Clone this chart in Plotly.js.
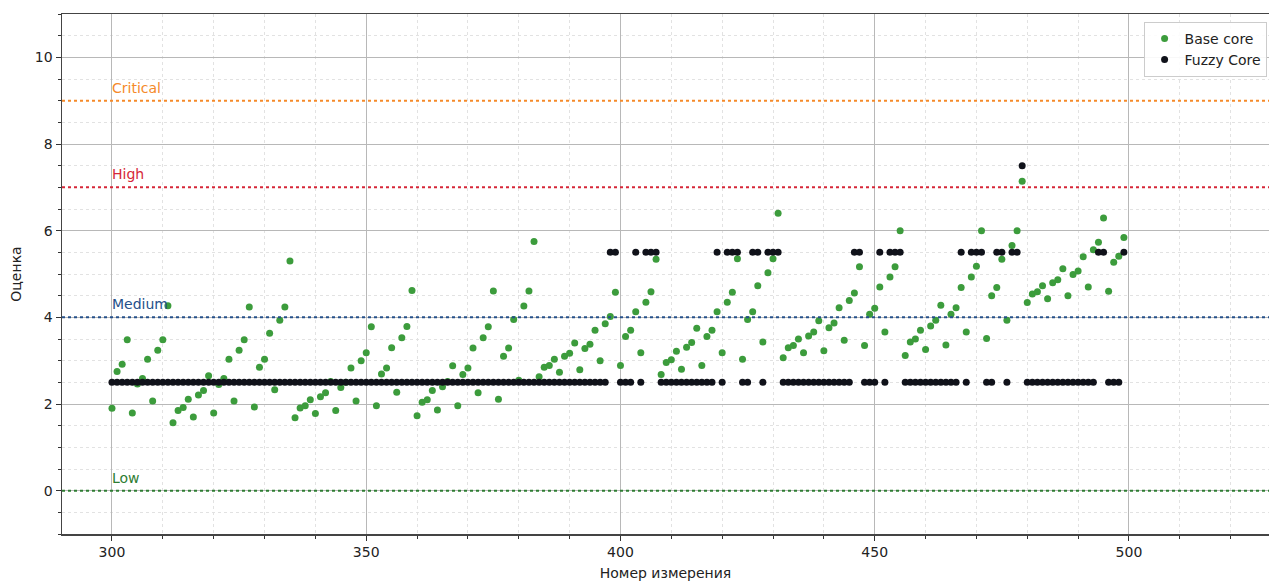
<!DOCTYPE html>
<html>
<head>
<meta charset="utf-8">
<script src="https://cdn.plot.ly/plotly-3.0.1.min.js"></script>
<style>html,body{margin:0;padding:0;background:#fff;}#chart{width:1269px;height:581px;}</style>
</head>
<body>
<div id="chart"></div>
<script>
// Measurement numbers
const xStart = 300;
const measurementCount = 200;

// Base core scores (x = 300..499)
const baseCore = [
  1.90, 2.75, 2.92, 3.48, 1.79, 2.46, 2.59, 3.03, 2.07, 3.24,
  3.48, 4.27, 1.57, 1.85, 1.92, 2.11, 1.70, 2.21, 2.31, 2.65,
  1.79, 2.45, 2.59, 3.03, 2.07, 3.24, 3.48, 4.24, 1.93, 2.85,
  3.03, 3.63, 2.33, 3.93, 4.24, 5.30, 1.68, 1.91, 1.96, 2.10,
  1.78, 2.17, 2.26, 2.52, 1.85, 2.38, 2.50, 2.83, 2.07, 3.00,
  3.18, 3.78, 1.96, 2.69, 2.83, 3.30, 2.27, 3.53, 3.79, 4.62,
  1.73, 2.04, 2.10, 2.31, 1.86, 2.40, 2.52, 2.88, 1.96, 2.68,
  2.83, 3.29, 2.26, 3.53, 3.78, 4.61, 2.11, 3.10, 3.29, 3.95,
  2.55, 4.26, 4.61, 5.75, 2.63, 2.85, 2.89, 3.03, 2.73, 3.10,
  3.17, 3.41, 2.79, 3.28, 3.38, 3.70, 3.00, 3.85, 4.02, 4.58,
  2.89, 3.56, 3.70, 4.13, 3.18, 4.35, 4.59, 5.34, 2.68, 2.96,
  3.02, 3.22, 2.80, 3.31, 3.42, 3.75, 2.89, 3.56, 3.70, 4.13,
  3.18, 4.35, 4.58, 5.35, 3.03, 3.95, 4.13, 4.73, 3.43, 5.03,
  5.35, 6.40, 3.07, 3.30, 3.35, 3.50, 3.18, 3.57, 3.66, 3.92,
  3.23, 3.76, 3.87, 4.22, 3.47, 4.39, 4.56, 5.17, 3.35, 4.07,
  4.21, 4.70, 3.66, 4.93, 5.17, 6.00, 3.12, 3.43, 3.50, 3.70,
  3.26, 3.80, 3.93, 4.28, 3.36, 4.07, 4.22, 4.69, 3.66, 4.93,
  5.18, 6.00, 3.51, 4.50, 4.69, 5.34, 3.93, 5.66, 6.00, 7.14,
  4.34, 4.54, 4.59, 4.73, 4.43, 4.80, 4.87, 5.12, 4.50, 4.99,
  5.07, 5.40, 4.70, 5.56, 5.73, 6.29, 4.60, 5.27, 5.41, 5.84
];

// Fuzzy core scores (x = 300..499)
const fuzzyCore = [
  2.5, 2.5, 2.5, 2.5, 2.5, 2.5, 2.5, 2.5, 2.5, 2.5,
  2.5, 2.5, 2.5, 2.5, 2.5, 2.5, 2.5, 2.5, 2.5, 2.5,
  2.5, 2.5, 2.5, 2.5, 2.5, 2.5, 2.5, 2.5, 2.5, 2.5,
  2.5, 2.5, 2.5, 2.5, 2.5, 2.5, 2.5, 2.5, 2.5, 2.5,
  2.5, 2.5, 2.5, 2.5, 2.5, 2.5, 2.5, 2.5, 2.5, 2.5,
  2.5, 2.5, 2.5, 2.5, 2.5, 2.5, 2.5, 2.5, 2.5, 2.5,
  2.5, 2.5, 2.5, 2.5, 2.5, 2.5, 2.5, 2.5, 2.5, 2.5,
  2.5, 2.5, 2.5, 2.5, 2.5, 2.5, 2.5, 2.5, 2.5, 2.5,
  2.5, 2.5, 2.5, 2.5, 2.5, 2.5, 2.5, 2.5, 2.5, 2.5,
  2.5, 2.5, 2.5, 2.5, 2.5, 2.5, 2.5, 2.5, 5.5, 5.5,
  2.5, 2.5, 2.5, 5.5, 2.5, 5.5, 5.5, 5.5, 2.5, 2.5,
  2.5, 2.5, 2.5, 2.5, 2.5, 2.5, 2.5, 2.5, 2.5, 5.5,
  2.5, 5.5, 5.5, 5.5, 2.5, 2.5, 5.5, 5.5, 2.5, 5.5,
  5.5, 5.5, 2.5, 2.5, 2.5, 2.5, 2.5, 2.5, 2.5, 2.5,
  2.5, 2.5, 2.5, 2.5, 2.5, 2.5, 5.5, 5.5, 2.5, 2.5,
  2.5, 5.5, 2.5, 5.5, 5.5, 5.5, 2.5, 2.5, 2.5, 2.5,
  2.5, 2.5, 2.5, 2.5, 2.5, 2.5, 2.5, 5.5, 2.5, 5.5,
  5.5, 5.5, 2.5, 2.5, 5.5, 5.5, 2.5, 5.5, 5.5, 7.5,
  2.5, 2.5, 2.5, 2.5, 2.5, 2.5, 2.5, 2.5, 2.5, 2.5,
  2.5, 2.5, 2.5, 2.5, 5.5, 5.5, 2.5, 2.5, 2.5, 5.5
];

// Threshold levels
const levelNames = ["Critical", "High", "Medium", "Low"];
const levelValues = [9, 7, 4, 0];
const levelColors = ["#f58a2a", "#d62738", "#25508a", "#2e7d32"];

// Axis ticks
const xTickVals = [300, 350, 400, 450, 500];
const yTickVals = [0, 2, 4, 6, 8, 10];

const xValues = Array.from({length: measurementCount}, (_, i) => xStart + i);

const traces = [
  {
    x: xValues, y: baseCore, type: "scatter", mode: "markers", name: "Base core",
    marker: {color: "#3c9c3c", size: 7}
  },
  {
    x: xValues, y: fuzzyCore, type: "scatter", mode: "markers", name: "Fuzzy Core",
    marker: {color: "#10121a", size: 7}
  }
];

const shapes = levelValues.map((v, i) => ({
  type: "line", xref: "paper", x0: 0, x1: 1, yref: "y", y0: v, y1: v,
  line: {color: levelColors[i], width: 2, dash: "dot"}, layer: "above"
}));

const annotations = levelValues.map((v, i) => ({
  x: xStart, y: v, xref: "x", yref: "y", text: levelNames[i],
  showarrow: false, xanchor: "left", yanchor: "bottom", yshift: 3, xshift: -2,
  font: {family: "DejaVu Sans", size: 14, color: levelColors[i]}
}));

const gridMajor = "#b8b8b8";
const gridMinor = "#e2e2e2";

const layout = {
  width: 1269, height: 581,
  margin: {l: 62, r: 0, t: 14, b: 47},
  paper_bgcolor: "#ffffff", plot_bgcolor: "#ffffff",
  font: {family: "DejaVu Sans", size: 14, color: "#222"},
  showlegend: true,
  legend: {
    x: 0.998, y: 0.985, xanchor: "right", yanchor: "top",
    bgcolor: "rgba(255,255,255,0.9)", bordercolor: "#cccccc", borderwidth: 1,
    font: {family: "DejaVu Sans", size: 14, color: "#222"}
  },
  xaxis: {
    range: [290.17, 527.54], tickvals: xTickVals, ticks: "outside", ticklen: 5,
    tickcolor: "#333", tickfont: {size: 14},
    showline: true, linecolor: "#444", linewidth: 1.5, mirror: true,
    showgrid: true, gridcolor: gridMajor, gridwidth: 1, zeroline: false,
    minor: {dtick: 10, tick0: 0, ticks: "outside", ticklen: 3, tickcolor: "#333",
            showgrid: true, gridcolor: gridMinor, griddash: "dot", gridwidth: 1},
    title: {text: "Номер измерения", font: {size: 14}, standoff: 10}
  },
  yaxis: {
    range: [-1, 11], tickvals: yTickVals, ticks: "outside", ticklen: 5,
    tickcolor: "#333", tickfont: {size: 14},
    showline: true, linecolor: "#444", linewidth: 1.5, mirror: false,
    showgrid: true, gridcolor: gridMajor, gridwidth: 1, zeroline: false,
    minor: {dtick: 0.5, tick0: 0, ticks: "outside", ticklen: 3, tickcolor: "#333",
            showgrid: true, gridcolor: gridMinor, griddash: "dot", gridwidth: 1},
    title: {text: "Оценка", font: {size: 14}, standoff: 10}
  },
  shapes: shapes,
  annotations: annotations
};

Plotly.newPlot("chart", traces, layout, {displayModeBar: false, staticPlot: true});
</script>
</body>
</html>
